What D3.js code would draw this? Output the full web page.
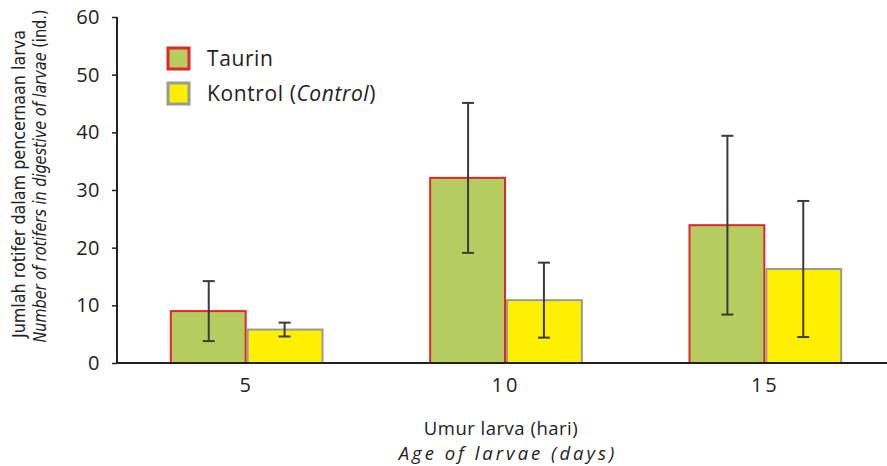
<!DOCTYPE html>
<html>
<head>
<meta charset="utf-8">
<script src="https://cdn.jsdelivr.net/npm/d3@7"></script>
<style>
  body { margin: 0; background: #fff; }
  svg { display: block; font-family: "Open Sans", "DejaVu Sans", sans-serif; }
</style>
</head>
<body>
<svg id="chart" width="887" height="466"></svg>
<script>
// Larval age groups (days)
const ages = ["5", "10", "15"];
const seriesNames = ["Taurin", "Kontrol"];
// Mean number of rotifers in larval gut, with standard deviations
const taurinMean = [9.0, 32.1, 23.9];
const taurinSd = [5.2, 13.0, 15.5];
const controlMean = [5.8, 10.9, 16.3];
const controlSd = [1.2, 6.5, 11.8];
const yTicks = [0, 10, 20, 30, 40, 50, 60];

const svg = d3.select("#chart");
const margin = { left: 117, top: 17, bottom: 103 };
const plotBottom = 466 - margin.bottom;

const y = d3.scaleLinear().domain([0, 60]).range([plotBottom, margin.top]);
const x = d3.scaleBand().domain(ages).range([117, 895])
  .paddingInner(0.415).paddingOuter(0.2075);
const xs = d3.scaleBand().domain(seriesNames).range([0, x.bandwidth()]);

const styles = {
  Taurin: { fill: "#b5cd5e", stroke: "#e3262b" },
  Kontrol: { fill: "#fff000", stroke: "#9a9a9a" }
};

const rows = [];
ages.forEach((a, i) => {
  rows.push({ age: a, s: "Taurin", v: taurinMean[i], sd: taurinSd[i] });
  rows.push({ age: a, s: "Kontrol", v: controlMean[i], sd: controlSd[i] });
});

// bars
svg.append("g").selectAll("rect").data(rows).join("rect")
  .attr("x", d => x(d.age) + xs(d.s) + (d.s === "Taurin" ? 0 : 1))
  .attr("y", d => y(d.v))
  .attr("width", xs.bandwidth() - 1)
  .attr("height", d => y(0) - y(d.v))
  .attr("fill", d => styles[d.s].fill)
  .attr("stroke", d => styles[d.s].stroke)
  .attr("stroke-width", 2);

// error bars
const eb = svg.append("g").attr("stroke", "#3a3a3a").attr("stroke-width", 2);
rows.forEach(d => {
  const cx = x(d.age) + xs(d.s) + xs.bandwidth() / 2;
  const t = y(d.v + d.sd), b = y(d.v - d.sd);
  eb.append("line").attr("x1", cx).attr("x2", cx).attr("y1", t).attr("y2", b);
  eb.append("line").attr("x1", cx - 6).attr("x2", cx + 6).attr("y1", t).attr("y2", t);
  eb.append("line").attr("x1", cx - 6).attr("x2", cx + 6).attr("y1", b).attr("y2", b);
});

// y axis
const yAxis = svg.append("g").attr("transform", `translate(${margin.left},0)`)
  .call(d3.axisLeft(y).tickValues(yTicks).tickSize(5).tickPadding(12));
yAxis.select(".domain").attr("stroke", "#222").attr("stroke-width", 2)
  .attr("d", `M0,${margin.top}V${plotBottom}`);
yAxis.selectAll(".tick line").attr("stroke", "#222").attr("stroke-width", 1.5);
yAxis.selectAll(".tick text").attr("font-size", 20).attr("fill", "#222")
  .attr("letter-spacing", 0.5).attr("font-family", "Open Sans, sans-serif");

// x axis baseline
const xAxis = svg.append("g").attr("transform", `translate(0,${plotBottom})`)
  .call(d3.axisBottom(x).tickSize(0).tickPadding(15));
xAxis.select(".domain").attr("stroke", "#222").attr("stroke-width", 2)
  .attr("d", `M${margin.left - 1},0H887`);
xAxis.selectAll(".tick text").attr("font-size", 20).attr("fill", "#222")
  .attr("letter-spacing", 3).attr("font-family", "Open Sans, sans-serif");

// x title
svg.append("text").attr("x", 501).attr("y", 435).attr("text-anchor", "middle")
  .attr("font-size", 18.5).attr("fill", "#222").attr("letter-spacing", 0.5)
  .text("Umur larva (hari)");
svg.append("text").attr("x", 508).attr("y", 460).attr("text-anchor", "middle")
  .attr("font-size", 18.5).attr("fill", "#222").attr("font-style", "italic")
  .attr("letter-spacing", 3)
  .text("Age of larvae (days)");

// y title (two rotated lines)
const yt = svg.append("g").attr("transform", "rotate(-90)");
yt.append("text").attr("x", -184).attr("y", 25).attr("text-anchor", "middle")
  .attr("font-size", 18).attr("fill", "#222")
  .attr("font-family", "Liberation Sans Narrow, DejaVu Sans Condensed, sans-serif")
  .attr("textLength", 308).attr("lengthAdjust", "spacingAndGlyphs")
  .text("Jumlah rotifer dalam pencernaan larva");
const yt2 = yt.append("text").attr("x", -176).attr("y", 46).attr("text-anchor", "middle")
  .attr("font-size", 18).attr("fill", "#222")
  .attr("font-family", "Liberation Sans Narrow, DejaVu Sans Condensed, sans-serif")
  .attr("textLength", 333).attr("lengthAdjust", "spacingAndGlyphs");
yt2.append("tspan").attr("font-style", "italic").text("Number of rotifers in digestive of larvae ");
yt2.append("tspan").text("(ind.)");

// legend
const legend = svg.append("g");
const legRows = [
  { s: "Taurin", y: 48 },
  { s: "Kontrol", y: 83 }
];
legRows.forEach(r => {
  legend.append("rect").attr("x", 168).attr("y", r.y).attr("width", 21).attr("height", 21)
    .attr("fill", styles[r.s].fill).attr("stroke", styles[r.s].stroke).attr("stroke-width", 3);
});
legend.append("text").attr("x", 207).attr("y", 66).attr("font-size", 21).attr("fill", "#222")
  .attr("letter-spacing", 0.6).text("Taurin");
const lt = legend.append("text").attr("x", 207).attr("y", 101).attr("font-size", 21)
  .attr("fill", "#222").attr("letter-spacing", 0.6);
lt.append("tspan").text("Kontrol (");
lt.append("tspan").attr("font-style", "italic").text("Control");
lt.append("tspan").text(")");
</script>
</body>
</html>
